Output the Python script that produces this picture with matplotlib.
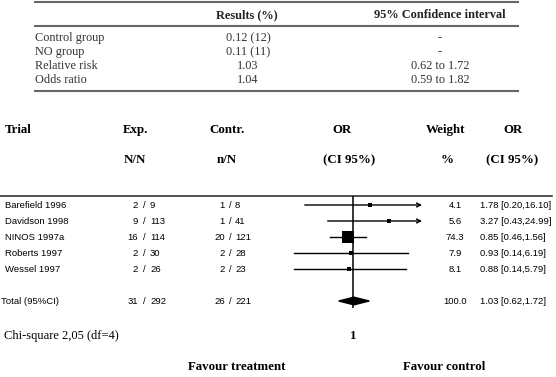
import numpy as np
import matplotlib
matplotlib.use("Agg")
import matplotlib.pyplot as plt
from matplotlib.patches import Polygon
from matplotlib import font_manager

# summary table on top
sum_rows = ["Control group", "NO group", "Relative risk", "Odds ratio"]
sum_results = ["0.12 (12)", "0.11 (11)", "1.03", "1.04"]
sum_ci = ["-", "-", "0.62 to 1.72", "0.59 to 1.82"]

# forest plot data
trials = ["Barefield 1996", "Davidson 1998", "NINOS 1997a", "Roberts 1997", "Wessel 1997"]
exp_n = [2, 9, 16, 2, 2]
exp_N = [9, 113, 114, 30, 26]
ctl_n = [1, 1, 20, 2, 2]
ctl_N = [8, 41, 121, 28, 23]
weight = [4.1, 5.6, 74.3, 7.9, 8.1]
odds = [1.78, 3.27, 0.85, 0.93, 0.88]
ci_lo = [0.20, 0.43, 0.46, 0.14, 0.14]
ci_hi = [16.10, 24.99, 1.56, 6.19, 5.79]
total_label = "Total (95%CI)"
total_exp = (31, 292)
total_ctl = (26, 221)
total_w = 100.0
total_or, total_lo, total_hi = 1.03, 0.62, 1.72

W, H = 556, 377
fig = plt.figure(figsize=(W / 100, H / 100), dpi=100)
bg = fig.add_axes([0, 0, 1, 1])
bg.set_xlim(0, W)
bg.set_ylim(H, 0)
bg.axis("off")

serif = "Liberation Serif"
names = {f.name for f in font_manager.fontManager.ttflist}
narrow = "Liberation Sans Narrow" if "Liberation Sans Narrow" in names else "Liberation Sans"

# ---- top table
for y in (2, 26, 91):
    bg.plot([35, 518], [y, y], color="0.4", lw=1.5)
bg.text(247, 15, "Results (%)", ha="center", va="center", fontsize=8.8,
        fontweight="bold", family=serif, color="#222")
bg.text(440, 15, "95% Confidence interval", ha="center", va="center",
        fontsize=8.8, fontweight="bold", family=serif, color="#222")
for i, (lab, r, c) in enumerate(zip(sum_rows, sum_results, sum_ci)):
    y = 38 + 14 * i
    bg.text(35, y, lab, ha="left", va="center", fontsize=8.8, family=serif, color="#333")
    bg.text(248, y, r, ha="center", va="center", fontsize=8.8, family=serif, color="#333")
    bg.text(440, y, c, ha="center", va="center", fontsize=8.8, family=serif, color="#333")

# ---- forest header
hdr = dict(va="center", fontsize=9.3, fontweight="bold", family=serif)
bg.text(5, 130, "Trial", ha="left", **hdr)
bg.text(136, 130, "Exp.", ha="center", **hdr)
bg.text(135, 160, "N/N", ha="center", **hdr)
bg.text(227, 130, "Contr.", ha="center", **hdr)
bg.text(227, 160, "n/N", ha="center", **hdr)
bg.text(342, 130, "OR", ha="center", **hdr)
bg.text(349, 160, "(CI 95%)", ha="center", **hdr)
bg.text(446, 130, "Weight", ha="center", **hdr)
bg.text(447, 160, "%", ha="center", **hdr)
bg.text(513, 130, "OR", ha="center", **hdr)
bg.text(512, 160, "(CI 95%)", ha="center", **hdr)
bg.plot([0, 552], [196, 196], color="0.2", lw=1.2)

# ---- forest axes: OR 0.1..10 spans x 284..422, rows 16 px apart from y=205
x0, x1 = 284, 422
ytop, ybot = 196, 308
row0, step = 205, 16
ax = fig.add_axes([x0 / W, 1 - ybot / H, (x1 - x0) / W, (ybot - ytop) / H])
ax.set_xscale("log")
ax.set_xlim(0.1, 10)
ax.set_ylim((ybot - row0) / step, (ytop - row0) / step)
ax.patch.set_alpha(0)
for s in ax.spines.values():
    s.set_visible(False)
ax.set_yticks([])
ax.set_xticks([1])
ax.set_xticklabels(["1"])
ax.minorticks_off()
ax.tick_params(axis="x", length=0, pad=16)
for t in ax.get_xticklabels():
    t.set_fontfamily(serif)
    t.set_fontweight("bold")
    t.set_fontsize(9.3)
ax.axvline(1, color="k", lw=1.1)

txt = dict(va="center", fontsize=6.8, family=narrow)
total_row = len(trials) + 1
for i in range(len(trials)):
    if ci_hi[i] > 10:
        ax.annotate("", xy=(10, i), xytext=(ci_lo[i], i),
                    arrowprops=dict(arrowstyle="->", lw=1, color="k",
                                    shrinkA=0, shrinkB=0, mutation_scale=7))
    else:
        ax.plot([ci_lo[i], ci_hi[i]], [i, i], color="k", lw=1)
    side = max(11.5 * np.sqrt(weight[i] / 74.3), 3.8) * 0.72
    ax.scatter([odds[i]], [i], marker="s", s=side ** 2, color="k", zorder=3, linewidths=0)

    y = row0 + step * i
    bg.text(5, y, trials[i], ha="left", **txt)
    bg.text(138, y, f"{exp_n[i]}", ha="right", **txt)
    bg.text(144, y, "/", ha="center", **txt)
    bg.text(150, y, f"{exp_N[i]}", ha="left", **txt)
    bg.text(225, y, f"{ctl_n[i]}", ha="right", **txt)
    bg.text(230, y, "/", ha="center", **txt)
    bg.text(235, y, f"{ctl_N[i]}", ha="left", **txt)
    bg.text(455, y, f"{weight[i]:.1f}", ha="center", **txt)
    bg.text(480, y, f"{odds[i]:.2f} [{ci_lo[i]:.2f},{ci_hi[i]:.2f}]", ha="left", **txt)

# total row
dh = 0.24
ax.add_patch(Polygon([(total_lo, total_row), (total_or, total_row - dh),
                      (total_hi, total_row), (total_or, total_row + dh)],
                     closed=True, color="k", zorder=3))
y = row0 + step * total_row
bg.text(1, y, total_label, ha="left", **txt)
bg.text(138, y, f"{total_exp[0]}", ha="right", **txt)
bg.text(144, y, "/", ha="center", **txt)
bg.text(150, y, f"{total_exp[1]}", ha="left", **txt)
bg.text(225, y, f"{total_ctl[0]}", ha="right", **txt)
bg.text(230, y, "/", ha="center", **txt)
bg.text(235, y, f"{total_ctl[1]}", ha="left", **txt)
bg.text(455, y, f"{total_w:.1f}", ha="center", **txt)
bg.text(480, y, f"{total_or:.2f} [{total_lo:.2f},{total_hi:.2f}]", ha="left", **txt)

bg.text(4, 336, "Chi-square 2,05 (df=4)", ha="left", va="center", fontsize=9, family=serif)
bg.text(237, 367, "Favour treatment", ha="center", va="center", fontsize=9.3,
        fontweight="bold", family=serif)
bg.text(444, 367, "Favour control", ha="center", va="center", fontsize=9.3,
        fontweight="bold", family=serif)

fig.savefig("out.png", dpi=100)
